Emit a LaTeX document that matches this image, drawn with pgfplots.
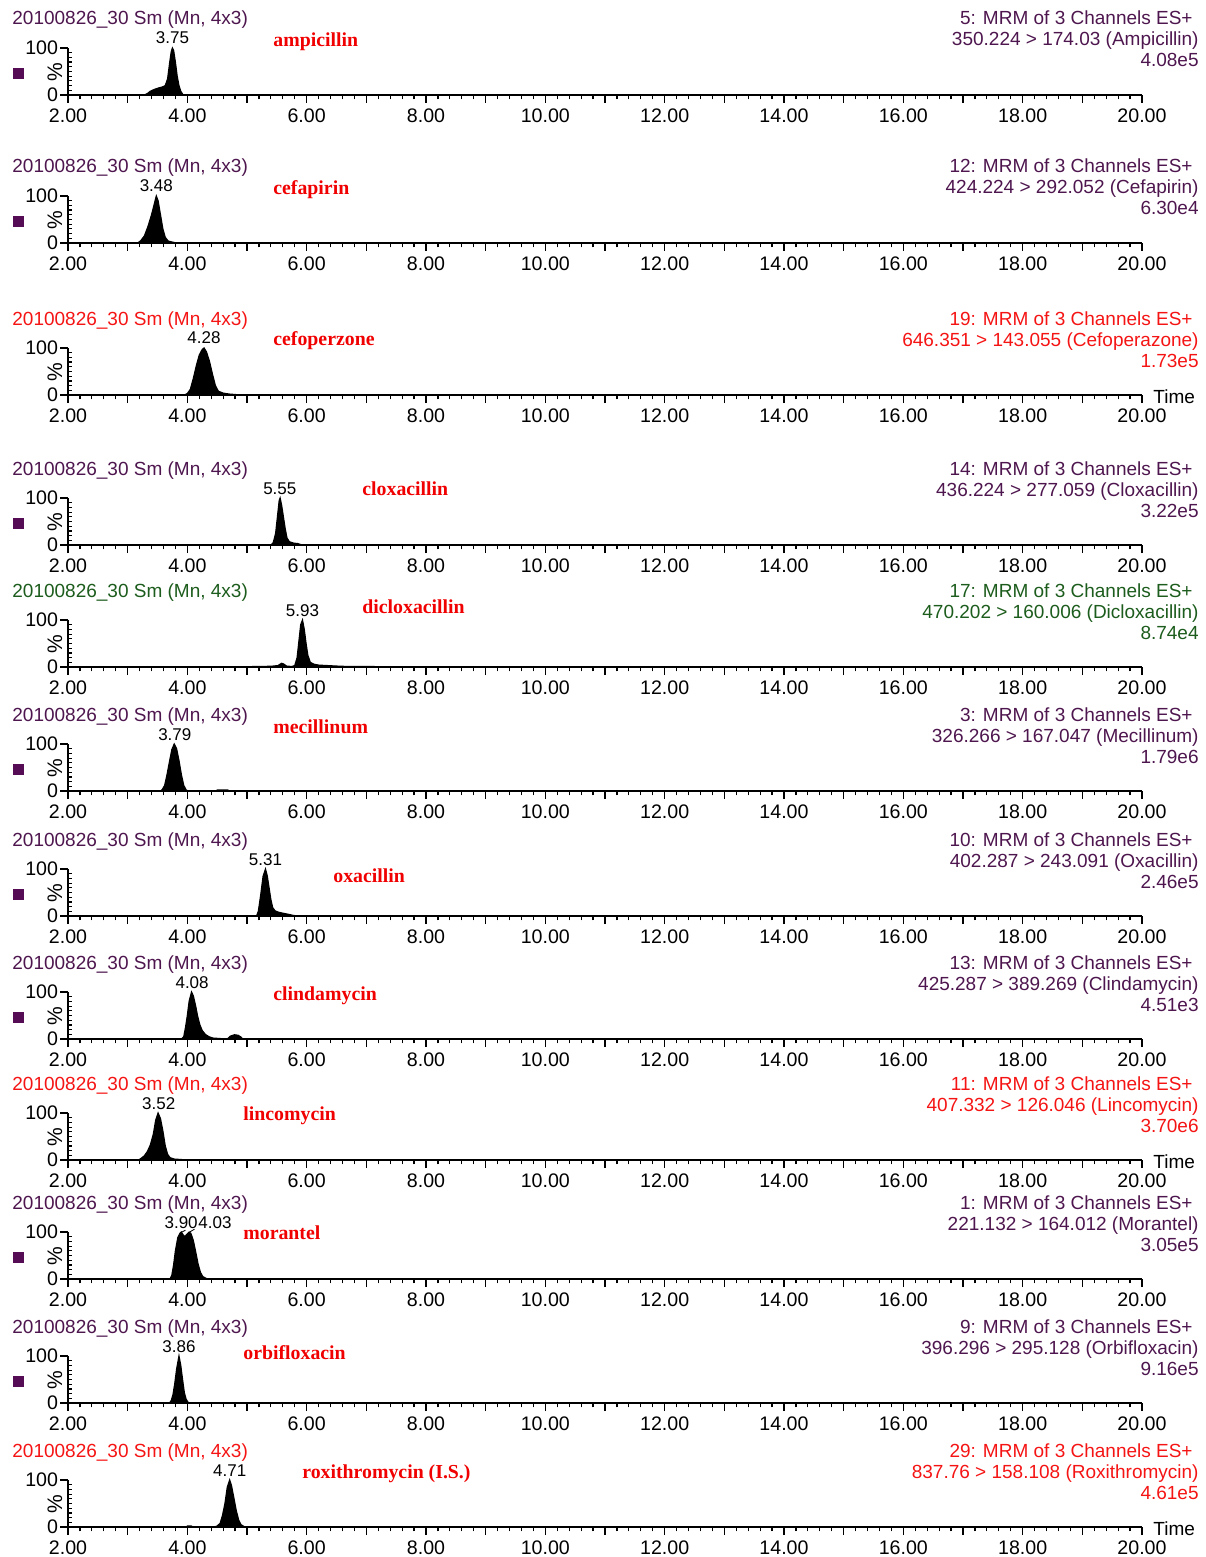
\documentclass[border=0pt]{standalone}
\usepackage{fontspec}
\setmainfont{Liberation Sans}
\newfontfamily\cpdfam{Liberation Serif}
\usepackage{pgfplots}
\pgfplotsset{compat=1.18}
\definecolor{hpurple}{RGB}{78,22,78}
\definecolor{hred}{RGB}{245,20,20}
\definecolor{hgreen}{RGB}{28,92,28}
\definecolor{sqpurple}{RGB}{85,12,85}
\definecolor{cred}{RGB}{240,0,0}
\newcommand\hf{\fontsize{9.5}{10.5}\selectfont}
\newcommand\cf{\fontsize{9.9}{11}\selectfont\cpdfam\bfseries}
\newcommand\pf{\fontsize{8.5}{10}\selectfont}
\pgfplotsset{chrom/.style={
  scale only axis, width=537pt, height=23.5pt,
  anchor=south west, clip=false,
  xmin=2, xmax=20, ymin=0, ymax=100,
  axis lines=left, axis line style={-, line width=0.7pt},
  tick align=outside, major tick length=4pt, minor tick length=2.2pt,
  tick style={line width=0.6pt, black},
  xtick={2,4,...,20},
  xticklabels={2.00,4.00,6.00,8.00,10.00,12.00,14.00,16.00,18.00,20.00},
  minor x tick num=9,
  extra x ticks={3,5,...,19}, extra x tick labels={},
  ytick={0,100}, yticklabels={0,100}, minor y tick num=9,
  minor y tick style={xshift=2pt},
  tick label style={font=\fontsize{9.8}{11}\selectfont},
  xticklabel style={anchor=north, inner sep=0pt, yshift=-2.5pt},
  yticklabel style={anchor=east, inner sep=0.8pt},
},
pk/.style={fill=black, draw=black, line width=0.6pt}}
\begin{document}
\begin{tikzpicture}
% 1 ampicillin
\begin{axis}[chrom, at={(34pt,-47.5pt)}]
\addplot[pk] coordinates {(2,0)(3.28,0)(3.33,3)(3.38,8)(3.45,12)(3.52,15)(3.58,17)(3.63,20)(3.67,35)(3.70,65)(3.73,92)(3.75,100)(3.77,95)(3.80,70)(3.83,40)(3.86,20)(3.89,8)(3.93,0)(5,0)} \closedcycle;
\node[anchor=base,font=\pf,inner sep=0pt,yshift=2pt] at (axis cs:3.75,100) {3.75};
\end{axis}
% 2 cefapirin
\begin{axis}[chrom, at={(34pt,-121.5pt)}]
\addplot[pk] coordinates {(2,0)(3.17,0)(3.22,5)(3.28,15)(3.34,35)(3.40,60)(3.45,85)(3.48,100)(3.51,90)(3.55,60)(3.59,30)(3.63,12)(3.68,4)(3.78,1)(3.82,0)(5,0)} \closedcycle;
\node[anchor=base,font=\pf,inner sep=0pt,yshift=2pt] at (axis cs:3.48,100) {3.48};
\end{axis}
% 3 cefoperzone
\begin{axis}[chrom, at={(34pt,-197.5pt)}]
\addplot[pk] coordinates {(2,0)(3.95,0)(4.0,3)(4.05,12)(4.10,35)(4.15,62)(4.20,85)(4.25,97)(4.28,100)(4.32,92)(4.37,72)(4.42,45)(4.47,20)(4.52,8)(4.6,4)(4.7,2)(4.8,1)(4.9,0)(5,0)} \closedcycle;
\node[anchor=base,font=\pf,inner sep=0pt,yshift=2pt] at (axis cs:4.28,100) {4.28};
\end{axis}
% 4 cloxacillin
\begin{axis}[chrom, at={(34pt,-272.5pt)}]
\addplot[pk] coordinates {(5,0)(5.40,0)(5.44,5)(5.48,25)(5.51,60)(5.54,95)(5.555,100)(5.58,85)(5.61,60)(5.64,35)(5.67,15)(5.71,7)(5.78,4)(5.85,3)(5.9,1)(5.95,0)(8,0)} \closedcycle;
\node[anchor=base,font=\pf,inner sep=0pt,yshift=2pt] at (axis cs:5.55,100) {5.55};
\end{axis}
% 5 dicloxacillin
\begin{axis}[chrom, at={(34pt,-333.5pt)}]
\addplot[pk] coordinates {(5.0,0)(5.1,1)(5.4,1.5)(5.52,3)(5.58,8)(5.62,6)(5.66,2)(5.75,1)(5.80,3)(5.84,20)(5.87,55)(5.90,90)(5.93,100)(5.96,80)(5.99,50)(6.02,25)(6.06,10)(6.12,6)(6.2,4)(6.35,3)(6.5,2)(6.7,1)(7.0,1)(7.5,0.5)(8.0,0)} \closedcycle;
\node[anchor=base,font=\pf,inner sep=0pt,yshift=2pt] at (axis cs:5.93,100) {5.93};
\end{axis}
% 6 mecillinum
\begin{axis}[chrom, at={(34pt,-395.5pt)}]
\addplot[pk] coordinates {(2,0)(3.55,0)(3.58,3)(3.62,12)(3.66,35)(3.70,62)(3.74,88)(3.78,100)(3.82,90)(3.86,65)(3.90,35)(3.94,12)(3.98,2)(4.02,0)(4.48,0)(4.5,2)(4.68,2)(4.7,0)(5,0)} \closedcycle;
\node[anchor=base,font=\pf,inner sep=0pt,yshift=2pt] at (axis cs:3.79,100) {3.79};
\end{axis}
% 7 oxacillin
\begin{axis}[chrom, at={(34pt,-458pt)}]
\addplot[pk] coordinates {(5.0,0)(5.16,0)(5.19,10)(5.23,45)(5.27,85)(5.31,100)(5.34,85)(5.37,60)(5.40,35)(5.43,18)(5.47,11)(5.53,8)(5.6,6)(5.68,4)(5.75,2)(5.83,0)} \closedcycle;
\node[anchor=base,font=\pf,inner sep=0pt,yshift=2pt] at (axis cs:5.31,100) {5.31};
\end{axis}
% 8 clindamycin
\begin{axis}[chrom, at={(34pt,-519.5pt)}]
\addplot[pk] coordinates {(2,0)(3.90,0)(3.94,5)(3.97,25)(4.00,50)(4.03,80)(4.07,100)(4.10,92)(4.14,70)(4.17,50)(4.21,30)(4.25,18)(4.30,10)(4.36,5)(4.43,2)(4.55,1)(4.62,0)(4.68,1)(4.72,6)(4.79,9)(4.85,8)(4.90,4)(4.93,0)(5,0)} \closedcycle;
\node[anchor=base,font=\pf,inner sep=0pt,yshift=2pt] at (axis cs:4.08,100) {4.08};
\end{axis}
% 9 lincomycin
\begin{axis}[chrom, at={(34pt,-580pt)}]
\addplot[pk] coordinates {(2,0)(3.18,0)(3.22,3)(3.28,9)(3.33,18)(3.38,32)(3.43,55)(3.47,85)(3.51,100)(3.55,88)(3.59,62)(3.63,30)(3.67,12)(3.71,5)(3.78,2)(3.9,1)(3.95,0)(5,0)} \closedcycle;
\node[anchor=base,font=\pf,inner sep=0pt,yshift=2pt] at (axis cs:3.52,100) {3.52};
\end{axis}
% 10 morantel
\begin{axis}[chrom, at={(34pt,-639.5pt)}]
\addplot[pk] coordinates {(2,0)(3.71,0)(3.74,8)(3.77,30)(3.80,60)(3.84,88)(3.88,98)(3.90,100)(3.93,94)(3.96,90)(3.99,95)(4.03,100)(4.06,97)(4.10,82)(4.14,58)(4.18,32)(4.22,14)(4.26,5)(4.32,1)(4.36,0)(5,0)} \closedcycle;
\node[anchor=base east,font=\pf,inner sep=0pt,yshift=2pt] at (axis cs:4.18,100) {3.90};
\node[anchor=base west,font=\pf,inner sep=0pt,yshift=2pt] at (axis cs:4.18,100) {4.03};
\draw[line width=0.4pt] (axis cs:3.97,104) -- (axis cs:3.91,100);
\draw[line width=0.4pt] (axis cs:4.12,106) -- (axis cs:4.04,100);
\end{axis}
% 11 orbifloxacin
\begin{axis}[chrom, at={(34pt,-701.5pt)}]
\addplot[pk] coordinates {(2,0)(3.70,0)(3.73,5)(3.76,18)(3.79,42)(3.82,72)(3.86,100)(3.89,80)(3.92,50)(3.95,22)(3.98,8)(4.02,0)(5,0)} \closedcycle;
\node[anchor=base,font=\pf,inner sep=0pt,yshift=2pt] at (axis cs:3.86,100) {3.86};
\end{axis}
% 12 roxithromycin
\begin{axis}[chrom, at={(34pt,-763.5pt)}]
\addplot[pk] coordinates {(2,0)(3.98,0)(4.0,2)(4.07,2)(4.09,0)(4.45,0)(4.5,2)(4.55,8)(4.59,25)(4.63,50)(4.67,85)(4.71,100)(4.74,88)(4.78,62)(4.82,35)(4.86,15)(4.90,5)(4.95,1)(5,0)} \closedcycle;
\node[anchor=base,font=\pf,inner sep=0pt,yshift=2pt] at (axis cs:4.71,100) {4.71};
\end{axis}

\begin{scope}[x=0.5pt,y=-0.5pt]
\newcommand\hdr[8]{%
\node[anchor=base west,text=#2,font=\hf,inner sep=0pt] at (12,{#1-70}) {20100826\_30 Sm (Mn, 4x3)};
\node[anchor=base east,text=#2,font=\hf,inner sep=0pt] at (1193,{#1-70}) {#3};
\node[anchor=base east,text=#2,font=\hf,inner sep=0pt] at (1199,{#1-49}) {#4};
\node[anchor=base east,text=#2,font=\hf,inner sep=0pt] at (1199,{#1-28}) {#5};
\node[anchor=base west,text=cred,font=\cf,inner sep=0pt] at (#7,{#1-#8}) {#6};
\node[rotate=90,font=\fontsize{10.5}{12}\selectfont,inner sep=0pt] at (55,{#1-23}) {\%};
}
\newcommand\sq[1]{\fill[sqpurple] (13,{#1-27}) rectangle (24,{#1-16});}
\newcommand\tm[1]{\node[anchor=base west,font=\hf,inner sep=0pt] at (1153,{#1+8}) {Time};}
\hdr{95}{hpurple}{5: MRM of 3 Channels ES+}{350.224 > 174.03 (Ampicillin)}{4.08e5}{ampicillin}{273}{48}\sq{95}
\hdr{243}{hpurple}{12: MRM of 3 Channels ES+}{424.224 > 292.052 (Cefapirin)}{6.30e4}{cefapirin}{273}{48}\sq{243}
\hdr{395}{hred}{19: MRM of 3 Channels ES+}{646.351 > 143.055 (Cefoperazone)}{1.73e5}{cefoperzone}{273}{50}\tm{395}
\hdr{545}{hpurple}{14: MRM of 3 Channels ES+}{436.224 > 277.059 (Cloxacillin)}{3.22e5}{cloxacillin}{362}{50}\sq{545}
\hdr{667}{hgreen}{17: MRM of 3 Channels ES+}{470.202 > 160.006 (Dicloxacillin)}{8.74e4}{dicloxacillin}{362}{54}
\hdr{791}{hpurple}{3: MRM of 3 Channels ES+}{326.266 > 167.047 (Mecillinum)}{1.79e6}{mecillinum}{273}{58}\sq{791}
\hdr{916}{hpurple}{10: MRM of 3 Channels ES+}{402.287 > 243.091 (Oxacillin)}{2.46e5}{oxacillin}{333}{34}\sq{916}
\hdr{1039}{hpurple}{13: MRM of 3 Channels ES+}{425.287 > 389.269 (Clindamycin)}{4.51e3}{clindamycin}{273}{39}\sq{1039}
\hdr{1160}{hred}{11: MRM of 3 Channels ES+}{407.332 > 126.046 (Lincomycin)}{3.70e6}{lincomycin}{243}{40}\tm{1160}
\hdr{1279}{hpurple}{1: MRM of 3 Channels ES+}{221.132 > 164.012 (Morantel)}{3.05e5}{morantel}{243}{40}\sq{1279}
\hdr{1403}{hpurple}{9: MRM of 3 Channels ES+}{396.296 > 295.128 (Orbifloxacin)}{9.16e5}{orbifloxacin}{243}{44}\sq{1403}
\hdr{1527}{hred}{29: MRM of 3 Channels ES+}{837.76 > 158.108 (Roxithromycin)}{4.61e5}{roxithromycin (I.S.)}{302}{49}\tm{1527}
\end{scope}
\pgfresetboundingbox
\path[use as bounding box] (0,0) rectangle (602.5pt,-778.5pt);
\end{tikzpicture}
\end{document}
